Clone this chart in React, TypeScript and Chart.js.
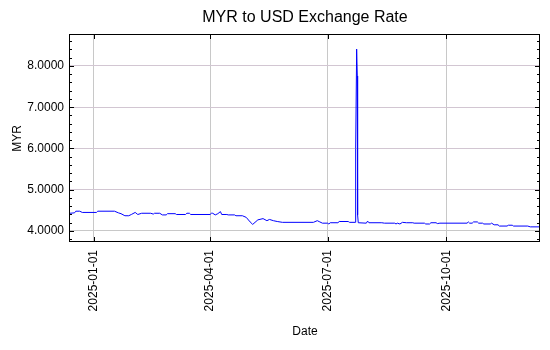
import React, { useEffect, useRef } from "react";
import { Chart, registerables } from "chart.js";

Chart.register(...registerables);

const chartTitle = "MYR to USD Exchange Rate";
const xAxisTitle = "Date";
const yAxisTitle = "MYR";

const rateDates: string[] = [
  "2024-12-13T12:00", "2024-12-17", "2024-12-18", "2024-12-21", "2024-12-23",
  "2025-01-03", "2025-01-04", "2025-01-17", "2025-01-20", "2025-01-22",
  "2025-01-25", "2025-01-28", "2025-01-30", "2025-02-02", "2025-02-04",
  "2025-02-07", "2025-02-14", "2025-02-16", "2025-02-17", "2025-02-21",
  "2025-02-23", "2025-02-26", "2025-02-27", "2025-03-05", "2025-03-06",
  "2025-03-13", "2025-03-14", "2025-03-16", "2025-03-17", "2025-04-01",
  "2025-04-02", "2025-04-03", "2025-04-05", "2025-04-07", "2025-04-09",
  "2025-04-10", "2025-04-14", "2025-04-15", "2025-04-20", "2025-04-21",
  "2025-04-26", "2025-04-29", "2025-05-02", "2025-05-04", "2025-05-08",
  "2025-05-12", "2025-05-15", "2025-05-17", "2025-05-20", "2025-05-23",
  "2025-05-27", "2025-06-20", "2025-06-23", "2025-06-25", "2025-06-27",
  "2025-07-01", "2025-07-02", "2025-07-03", "2025-07-09", "2025-07-10",
  "2025-07-17", "2025-07-18", "2025-07-22T12:00", "2025-07-22T18:00", "2025-07-23T12:00",
  "2025-07-24T00:00", "2025-07-24T06:00", "2025-07-24T18:00", "2025-07-31", "2025-08-01",
  "2025-08-02", "2025-08-12", "2025-08-14", "2025-08-22", "2025-08-23",
  "2025-08-24", "2025-08-26", "2025-08-28", "2025-08-31", "2025-09-05",
  "2025-09-06", "2025-09-14", "2025-09-15", "2025-09-18", "2025-09-19",
  "2025-09-23", "2025-09-24", "2025-09-26", "2025-10-17", "2025-10-18",
  "2025-10-19", "2025-10-21", "2025-10-22", "2025-10-25", "2025-10-26",
  "2025-10-29", "2025-10-30", "2025-11-04", "2025-11-05", "2025-11-07",
  "2025-11-10", "2025-11-11", "2025-11-17", "2025-11-18", "2025-11-21",
  "2025-11-22", "2025-12-03", "2025-12-05", "2025-12-12T12:00",
];

const rateValues: number[] = [
  4.43, 4.44, 4.48, 4.48, 4.45,
  4.45, 4.48, 4.48, 4.44, 4.42,
  4.37, 4.37, 4.40, 4.45, 4.40,
  4.43, 4.43, 4.41, 4.43, 4.43,
  4.39, 4.39, 4.42, 4.42, 4.40,
  4.40, 4.43, 4.43, 4.40, 4.40,
  4.43, 4.43, 4.39, 4.42, 4.47,
  4.40, 4.40, 4.39, 4.39, 4.37,
  4.37, 4.33, 4.22, 4.16, 4.27,
  4.30, 4.25, 4.28, 4.25, 4.23,
  4.21, 4.21, 4.25, 4.22, 4.19,
  4.19, 4.17, 4.20, 4.20, 4.23,
  4.23, 4.21, 4.21, 6.00, 8.41,
  7.76, 4.39, 4.20, 4.19, 4.24,
  4.20, 4.20, 4.19, 4.19, 4.17,
  4.19, 4.17, 4.21, 4.20, 4.20,
  4.19, 4.19, 4.17, 4.17, 4.20,
  4.20, 4.18, 4.19, 4.19, 4.22,
  4.19, 4.19, 4.22, 4.22, 4.19,
  4.19, 4.17, 4.17, 4.19, 4.15,
  4.15, 4.12, 4.12, 4.14, 4.14,
  4.12, 4.12, 4.10, 4.10,
];

const xTickDates: string[] = ["2025-01-01", "2025-04-01", "2025-07-01", "2025-10-01"];
const yTickValues: number[] = [4, 5, 6, 7, 8];
const yAxisMin = 3.7333;
const yAxisMax = 8.7515;

const FONT = '"Liberation Sans", Arial, sans-serif';

function toMs(s: string): number {
  return Date.parse(s.length === 10 ? s + "T00:00:00Z" : s + ":00Z");
}

const framePlugin = {
  id: "frameTicks",
  afterDraw(chart: any) {
    const { ctx, chartArea, scales } = chart;
    const { left, top, right, bottom } = chartArea;
    const x = scales.x;
    const y = scales.y;
    ctx.save();
    ctx.strokeStyle = "#000";
    ctx.lineWidth = 1;
    ctx.strokeRect(left - 0.5, top - 0.5, right - left, bottom - top);
    ctx.beginPath();
    const kMin = Math.ceil(y.min * 5);
    const kMax = Math.floor(y.max * 5);
    for (let k = kMin; k <= kMax; k++) {
      const v = k / 5;
      const major = k % 5 === 0;
      const len = major ? 5 : 3;
      const py = Math.round(y.getPixelForValue(v)) + 0.5;
      ctx.moveTo(left - 1, py);
      ctx.lineTo(left - 1 + len, py);
      ctx.moveTo(right, py);
      ctx.lineTo(right - len, py);
    }
    xTickDates.forEach((d) => {
      const px = Math.round(x.getPixelForValue(toMs(d))) + 0.5;
      ctx.moveTo(px, bottom);
      ctx.lineTo(px, bottom - 5);
      ctx.moveTo(px, top - 1);
      ctx.lineTo(px, top - 1 + 5);
    });
    ctx.stroke();

    ctx.fillStyle = "#000";
    ctx.font = `16px ${FONT}`;
    ctx.textAlign = "center";
    ctx.textBaseline = "middle";
    ctx.fillText(chartTitle, (left + right) / 2, 18);
    ctx.restore();
  },
};

export default function App() {
  const canvasRef = useRef<HTMLCanvasElement | null>(null);

  useEffect(() => {
    document.body.style.margin = "0";
    const canvas = canvasRef.current;
    if (!canvas) return;
    const points = rateDates.map((d, i) => ({ x: toMs(d), y: rateValues[i] }));
    const chart = new Chart(canvas, {
      type: "line",
      data: {
        datasets: [
          {
            label: "MYR",
            data: points,
            borderColor: "#0000ff",
            borderWidth: 1,
            pointRadius: 0,
            tension: 0,
            fill: false,
          },
        ],
      },
      options: {
        responsive: false,
        animation: false,
        devicePixelRatio: 1,
        layout: { padding: { top: 35, right: 10, left: 0, bottom: 0 } },
        plugins: {
          legend: { display: false },
          title: { display: false },
          tooltip: { enabled: false },
        },
        scales: {
          x: {
            type: "linear",
            min: toMs(rateDates[0]),
            max: toMs(rateDates[rateDates.length - 1]),
            border: { display: false },
            grid: { color: "#c8c8c8", lineWidth: 1, drawTicks: false },
            afterBuildTicks: (scale: any) => {
              scale.ticks = xTickDates.map((d) => ({ value: toMs(d) }));
            },
            afterFit: (scale: any) => {
              scale.height = 108;
            },
            ticks: {
              autoSkip: false,
              minRotation: 90,
              maxRotation: 90,
              padding: 8,
              color: "#000",
              font: { family: FONT, size: 12 },
              callback: (v: any) => new Date(Number(v)).toISOString().slice(0, 10),
            },
            title: {
              display: true,
              text: xAxisTitle,
              color: "#000",
              font: { family: FONT, size: 12 },
              padding: { top: 0, bottom: 11 },
            },
          },
          y: {
            type: "linear",
            min: yAxisMin,
            max: yAxisMax,
            border: { display: false },
            grid: {
              color: (ctx: any) => (ctx.tick && ctx.tick.value === 4 ? "#c8c8c8" : "#d2c6d2"),
              lineWidth: 1,
              drawTicks: false,
            },
            afterBuildTicks: (scale: any) => {
              scale.ticks = yTickValues.map((v) => ({ value: v }));
            },
            afterFit: (scale: any) => {
              scale.width = 70;
            },
            ticks: {
              padding: 6,
              color: "#000",
              font: { family: FONT, size: 12 },
              callback: (v: any) => Number(v).toFixed(4),
            },
            title: {
              display: true,
              text: yAxisTitle,
              color: "#000",
              font: { family: FONT, size: 12 },
              padding: { top: 10, bottom: 0 },
            },
          },
        },
      },
      plugins: [framePlugin],
    });
    return () => chart.destroy();
  }, []);

  return (
    <div style={{ position: "absolute", left: 0, top: 0, width: 550, height: 350 }}>
      <canvas ref={canvasRef} width={550} height={350} />
    </div>
  );
}
